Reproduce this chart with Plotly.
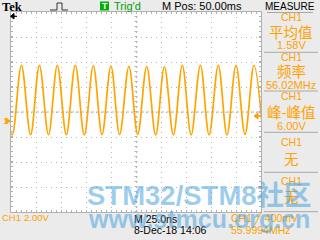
import plotly.graph_objects as go

# ---------------- data ----------------
# waveform extrema: time (ns from left graticule edge), voltage (V above CH1 ground)
t_ext = [-7.6, 1.3, 10.4, 19.6, 28.4, 37.5, 46.3, 55.3, 64.3, 73.3, 82.3, 91.0,
         99.9, 108.6, 117.9, 126.7, 135.7, 144.7, 153.4, 162.4, 171.3, 180.1,
         189.4, 198.1, 207.3, 216.0, 225.0, 234.0, 243.0, 252.0]
v_ext = [4.46, -1.12, 4.46, -1.10, 4.46, -1.10, 4.46, -1.10, 4.46, -1.12, 4.42, -1.10,
         4.40, -1.08, 4.38, -1.08, 4.36, -1.12, 4.34, -1.12, 4.46, -1.12,
         4.46, -1.12, 4.46, -1.12, 4.46, -1.08, 4.46, -1.12]

meas_labels = ["平均值", "频率", "峰-峰值", "无", "无"]
meas_values = ["1.58V", "56.02MHz", "6.00V", "", ""]
meas_source = ["CH1", "CH1", "CH1", "CH1", "CH1"]

time_div_ns = 25          # M 25.0ns
volt_div = 2.0            # CH1 2.00V
n_hdiv, n_vdiv = 10, 8
ground_div_from_top = 4.36  # ground marker position (divisions below top)

# ---------------- geometry ----------------
W, H = 320, 240
L, T, PW, PH = 11, 12, 250, 200

def px(x):
    return (x - L) / PW

def py(y):
    return (T + PH - y) / PH

ORANGE = "#ffa200"
TRACE = "#ffa500"
GRID = "#b4b4b4"
BORDER = "#b0b0b0"
SEP = "#a8a8a8"
FONT = "Liberation Sans, Arial, sans-serif"
CJK = "Noto Sans CJK SC"

y_top = ground_div_from_top * volt_div
y_bot = y_top - n_vdiv * volt_div
x_max = n_hdiv * time_div_ns

fig = go.Figure()
fig.add_trace(go.Scatter(x=t_ext, y=v_ext, mode="lines",
                         line=dict(color=TRACE, width=1.7, shape="spline", smoothing=1.0),
                         hoverinfo="skip", showlegend=False))

axis_common = dict(showticklabels=False, zeroline=False, showgrid=True,
                   gridcolor=GRID, griddash="1px,4px", gridwidth=1,
                   showline=True, linecolor=BORDER, linewidth=1, mirror="ticks",
                   ticks="inside", ticklen=2, tickcolor=BORDER, tickwidth=1,
                   fixedrange=True)
fig.update_xaxes(range=[0, x_max], tick0=0, dtick=time_div_ns,
                 minor=dict(dtick=time_div_ns / 5, ticks="inside", ticklen=2,
                            tickcolor=BORDER, showgrid=False),
                 **axis_common)
fig.update_yaxes(range=[y_bot, y_top], tick0=y_top, dtick=volt_div,
                 minor=dict(dtick=volt_div / 5, ticks="inside", ticklen=2,
                            tickcolor=BORDER, showgrid=False),
                 **axis_common)

shapes = []
# centre cross lines with tick marks
y_mid = (y_top + y_bot) / 2
shapes.append(dict(type="line", xref="x", yref="y", x0=0, x1=x_max, y0=y_mid, y1=y_mid,
                   line=dict(color=GRID, width=1, dash="3px,2px"), layer="below"))
shapes.append(dict(type="line", xref="x", yref="y", x0=x_max / 2, x1=x_max / 2,
                   y0=y_bot, y1=y_top,
                   line=dict(color=GRID, width=3, dash="1px,4px"), layer="below"))

def pline(x0, y0, x1, y1, color, width=1, dash="solid"):
    shapes.append(dict(type="line", xref="paper", yref="paper",
                       x0=px(x0), y0=py(y0), x1=px(x1), y1=py(y1),
                       line=dict(color=color, width=width, dash=dash)))

def ppath(pts, color, fill=None, width=1, dash="solid"):
    d = "M " + " L ".join(f"{px(a):.5f},{py(b):.5f}" for a, b in pts)
    if fill:
        d += " Z"
    shapes.append(dict(type="path", xref="paper", yref="paper", path=d,
                       fillcolor=fill if fill else "rgba(0,0,0,0)",
                       line=dict(color=color, width=width, dash=dash)))

# pulse icon
ppath([(50, 10), (57, 10), (57, 3), (62, 3), (62, 10), (68, 10)], "#333333", width=1)
# green trigger box
shapes.append(dict(type="rect", xref="paper", yref="paper",
                   x0=px(100), x1=px(109), y0=py(10.5), y1=py(1.5),
                   fillcolor="#00b000", line=dict(width=0)))
# top-left arrow (trigger position)
ppath([(14, 13.5), (10.5, 16.3), (14, 19)], "black", fill="black")
pline(13, 16.3, 17, 16.3, "black", 1.2)
# ground marker (right pointing arrow)
ppath([(6, 118), (10, 121), (6, 124)], ORANGE, fill=ORANGE)
# trigger level marker on right
ppath([(258, 113), (254, 116), (258, 119)], ORANGE, fill=ORANGE)
pline(257, 116, 261, 116, ORANGE, 1.5)

# measurement panel separators
pline(267, 12.5, 313, 12.5, SEP)
for yy in [52.3, 91, 132.3, 172.3, 211.7]:
    pline(264, yy, 318, yy, SEP)

ann = []

def text(x, y, s, size, color="black", family=FONT, xanchor="left", bold=False):
    ann.append(dict(x=px(x), y=py(y), xref="paper", yref="paper", text=(f"<b>{s}</b>" if bold else s),
                    showarrow=False, xanchor=xanchor, yanchor="middle",
                    font=dict(size=size, color=color, family=family), borderpad=0))

text(12, 7, "Tek", 12.5, family="Liberation Serif, DejaVu Serif", xanchor="center", bold=True)
text(104.5, 6.3, "T", 9, color="white", xanchor="center", bold=True)
text(112.5, 6.3, "Trig'd", 11, color="#00a000")
text(161, 6.3, "M Pos: 50.00ms", 11)
text(290, 6.5, "MEASURE", 10, xanchor="center")

# measurement boxes
src_y = [17, 57, 95.5, 142, 181]
lab_y = [31.5, 70.5, 111.7, 158, 196.5]
val_y = [45, 84.7, 125.5, None, None]
for i in range(5):
    text(291, src_y[i], meas_source[i], 10.5, color=ORANGE, xanchor="center")
    text(291, lab_y[i], meas_labels[i], 14.5, color=ORANGE, family=CJK, xanchor="center")
    if meas_values[i]:
        text(291, val_y[i], meas_values[i], 11, color=ORANGE, xanchor="center")

# ground marker label
text(1.5, 121, "1", 9, color=ORANGE)

# bottom status
text(0.5, 217.5, "CH1", 9.5, color=ORANGE)
text(23, 217.5, "2.00V", 9.5, color=ORANGE)
text(133, 219, "M 25.0ns", 10.5)
text(133, 230, "8-Dec-18 14:06", 10.5)
text(230, 217.5, "CH1 ╱ 400mV", 10.5, color=ORANGE)
text(230, 230, "55.9994MHz", 10.5, color=ORANGE)

# watermark
WM = "rgba(60,155,220,0.5)"
text(199, 195.5, "STM32/STM8社区", 27.5, color=WM,
     family="Liberation Sans, Noto Sans CJK SC", xanchor="center", bold=True)
text(198.5, 218.5, "www.stmcu.org.cn", 25, color=WM,
     family="Liberation Sans", xanchor="center", bold=True)

fig.update_layout(width=W, height=H, margin=dict(l=L, r=W - L - PW, t=T, b=H - T - PH),
                  paper_bgcolor="#ebebeb", plot_bgcolor="white",
                  shapes=shapes, annotations=ann, showlegend=False)

fig.write_html("out.html", config={"displayModeBar": False})
